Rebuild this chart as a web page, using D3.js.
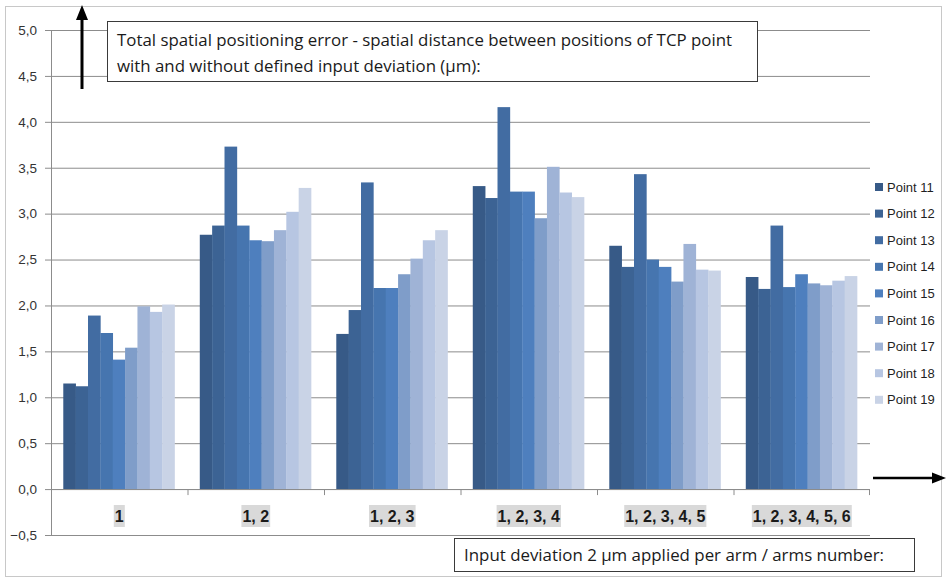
<!DOCTYPE html>
<html>
<head>
<meta charset="utf-8">
<script src="https://cdn.jsdelivr.net/npm/d3@7"></script>
<style>
  html, body { margin: 0; padding: 0; background: #ffffff; }
  svg { display: block; }
</style>
</head>
<body>
<svg id="chart" width="947" height="579"></svg>
<script>
const categories = ["1", "1, 2", "1, 2, 3", "1, 2, 3, 4", "1, 2, 3, 4, 5", "1, 2, 3, 4, 5, 6"];
const seriesNames = ["Point 11", "Point 12", "Point 13", "Point 14", "Point 15", "Point 16", "Point 17", "Point 18", "Point 19"];
const point11 = [1.15, 2.77, 1.69, 3.30, 2.65, 2.31];
const point12 = [1.12, 2.87, 1.95, 3.17, 2.42, 2.18];
const point13 = [1.89, 3.73, 3.34, 4.16, 3.43, 2.87];
const point14 = [1.70, 2.87, 2.19, 3.24, 2.50, 2.20];
const point15 = [1.41, 2.71, 2.19, 3.24, 2.42, 2.34];
const point16 = [1.54, 2.70, 2.34, 2.95, 2.26, 2.24];
const point17 = [1.99, 2.82, 2.51, 3.51, 2.67, 2.22];
const point18 = [1.93, 3.02, 2.71, 3.23, 2.39, 2.27];
const point19 = [2.01, 3.28, 2.82, 3.18, 2.38, 2.32];
const seriesValues = [point11, point12, point13, point14, point15, point16, point17, point18, point19];
const seriesColors = ["#375a87", "#3c6394", "#426ca2", "#4675af", "#4e7fbe", "#7f9dc9", "#9fb3d6", "#b7c6e2", "#c9d3e6"];
const yTicks = [-0.5, 0, 0.5, 1, 1.5, 2, 2.5, 3, 3.5, 4, 4.5, 5];
const titleLines = ["Total spatial positioning error - spatial distance between positions of TCP point",
                    "with and without defined input deviation (\u00b5m):"];
const xTitle = "Input deviation 2 \u00b5m applied per arm / arms number:";

const svg = d3.select("#chart");
const plot = { left: 51, right: 870, top: 30, bottom: 535 };

// outer border
svg.append("rect").attr("x", 5.5).attr("y", 6.5).attr("width", 936).attr("height", 570)
  .attr("fill", "#ffffff").attr("stroke", "#c8c8c8").attr("stroke-width", 1);

const y = d3.scaleLinear().domain([-0.5, 5]).range([plot.bottom, plot.top]);
const x0 = d3.scaleBand().domain(categories).range([plot.left, plot.right]).padding(0);
const bw = x0.bandwidth();
const x1 = d3.scaleBand().domain(seriesNames).range([bw * 0.09, bw * 0.905]).padding(0);

// gridlines + ticks
const yAxis = d3.axisLeft(y).tickValues(yTicks)
  .tickSize(-(plot.right - plot.left)).tickSizeOuter(0)
  .tickFormat(d => d3.format(".1f")(d).replace(".", ","));
const gy = svg.append("g").attr("transform", `translate(${plot.left},0)`).call(yAxis);
gy.select(".domain").remove();
gy.selectAll(".tick line").attr("stroke", "#8c8c8c").attr("x1", -6).attr("stroke-width", 1);
gy.selectAll(".tick text").attr("x", -14).attr("fill", "#333333")
  .style("font-family", "'Liberation Sans', Arial, sans-serif").style("font-size", "13.5px");

// y axis line
svg.append("line").attr("x1", plot.left + 0.5).attr("x2", plot.left + 0.5)
  .attr("y1", y(5)).attr("y2", y(-0.5)).attr("stroke", "#8c8c8c");

// bars
const groups = svg.append("g").selectAll("g").data(categories).join("g")
  .attr("transform", d => `translate(${x0(d)},0)`);
groups.selectAll("rect")
  .data((c, ci) => seriesNames.map((s, si) => ({ s, si, v: seriesValues[si][ci] })))
  .join("rect")
  .attr("x", d => x1(d.s))
  .attr("width", x1.bandwidth() + 0.3)
  .attr("y", d => y(d.v))
  .attr("height", d => y(0) - y(d.v))
  .attr("fill", d => seriesColors[d.si]);

// x axis at zero
const xAxis = d3.axisBottom(x0).tickSize(0).tickFormat("");
const gx = svg.append("g").attr("transform", `translate(0,${Math.round(y(0)) + 0.5})`).call(xAxis);
gx.select(".domain").attr("stroke", "#8c8c8c").attr("d", `M${plot.left},0H${plot.right}`);
// boundary ticks
svg.append("g").selectAll("line").data(categories.slice(1).concat(["__end"])).join("line")
  .attr("x1", d => d === "__end" ? plot.right - 0.5 : x0(d) + 0.5)
  .attr("x2", d => d === "__end" ? plot.right - 0.5 : x0(d) + 0.5)
  .attr("y1", y(0)).attr("y2", y(0) + 6).attr("stroke", "#8c8c8c");

// category labels with grey highlight
const catG = svg.append("g");
categories.forEach(c => {
  const cx = x0(c) + bw / 2;
  const g = catG.append("g");
  const bg = g.append("rect").attr("fill", "#d9d9d9");
  const t = g.append("text").attr("x", cx).attr("y", 522).attr("text-anchor", "middle")
    .style("font-family", "'Liberation Sans', Arial, sans-serif").style("font-size", "16px")
    .style("font-weight", "bold").attr("fill", "#1a1a1a").text(c);
  const bb = t.node().getBBox();
  bg.attr("x", bb.x - 1).attr("y", 505).attr("width", bb.width + 2).attr("height", 22);
});

// legend
const leg = svg.append("g");
seriesNames.forEach((s, i) => {
  const ly = 187 + i * 26.6;
  leg.append("rect").attr("x", 875).attr("y", ly - 4).attr("width", 8).attr("height", 8)
    .attr("fill", seriesColors[i]);
  leg.append("text").attr("x", 887).attr("y", ly + 4.5).attr("fill", "#1f1f1f")
    .style("font-family", "'Liberation Sans', Arial, sans-serif").style("font-size", "13px").text(s);
});

// title box
const FS = 16.5;
const tb = svg.append("g");
tb.append("rect").attr("x", 107.5).attr("y", 21.5).attr("width", 650).attr("height", 60)
  .attr("fill", "#ffffff").attr("stroke", "#3a3a3a").attr("stroke-width", 1);
const t1 = tb.append("text").attr("x", 117).attr("y", 46).attr("fill", "#1a1a1a")
  .style("font-family", "'Open Sans', sans-serif").style("font-size", FS + "px").text(titleLines[0]);
const t2 = tb.append("text").attr("x", 117).attr("y", 72).attr("fill", "#1a1a1a")
  .style("font-family", "'Open Sans', sans-serif").style("font-size", FS + "px").text(titleLines[1]);
const w1 = t1.node().getComputedTextLength();
const w2 = t2.node().getComputedTextLength();
const squeeze = 615 / w1;
t1.attr("textLength", 615).attr("lengthAdjust", "spacingAndGlyphs");
t2.attr("textLength", w2 * squeeze).attr("lengthAdjust", "spacingAndGlyphs");

// x title box
const xb = svg.append("g");
xb.append("rect").attr("x", 454.5).attr("y", 538.5).attr("width", 460).attr("height", 33)
  .attr("fill", "#ffffff").attr("stroke", "#3a3a3a");
const xt = xb.append("text").attr("x", 464).attr("y", 561).attr("fill", "#1a1a1a")
  .style("font-family", "'Open Sans', sans-serif").style("font-size", FS + "px").text(xTitle);
xt.attr("textLength", 420).attr("lengthAdjust", "spacingAndGlyphs");

// arrows
svg.append("line").attr("x1", 82).attr("x2", 82).attr("y1", 89).attr("y2", 18)
  .attr("stroke", "#000").attr("stroke-width", 3);
svg.append("path").attr("d", "M82,5 L76,20 L88,20 Z").attr("fill", "#000");
svg.append("line").attr("x1", 873).attr("x2", 934).attr("y1", 478).attr("y2", 478)
  .attr("stroke", "#000").attr("stroke-width", 2.5);
svg.append("path").attr("d", "M946,478 L932,472.5 L932,483.5 Z").attr("fill", "#000");
</script>
</body>
</html>
